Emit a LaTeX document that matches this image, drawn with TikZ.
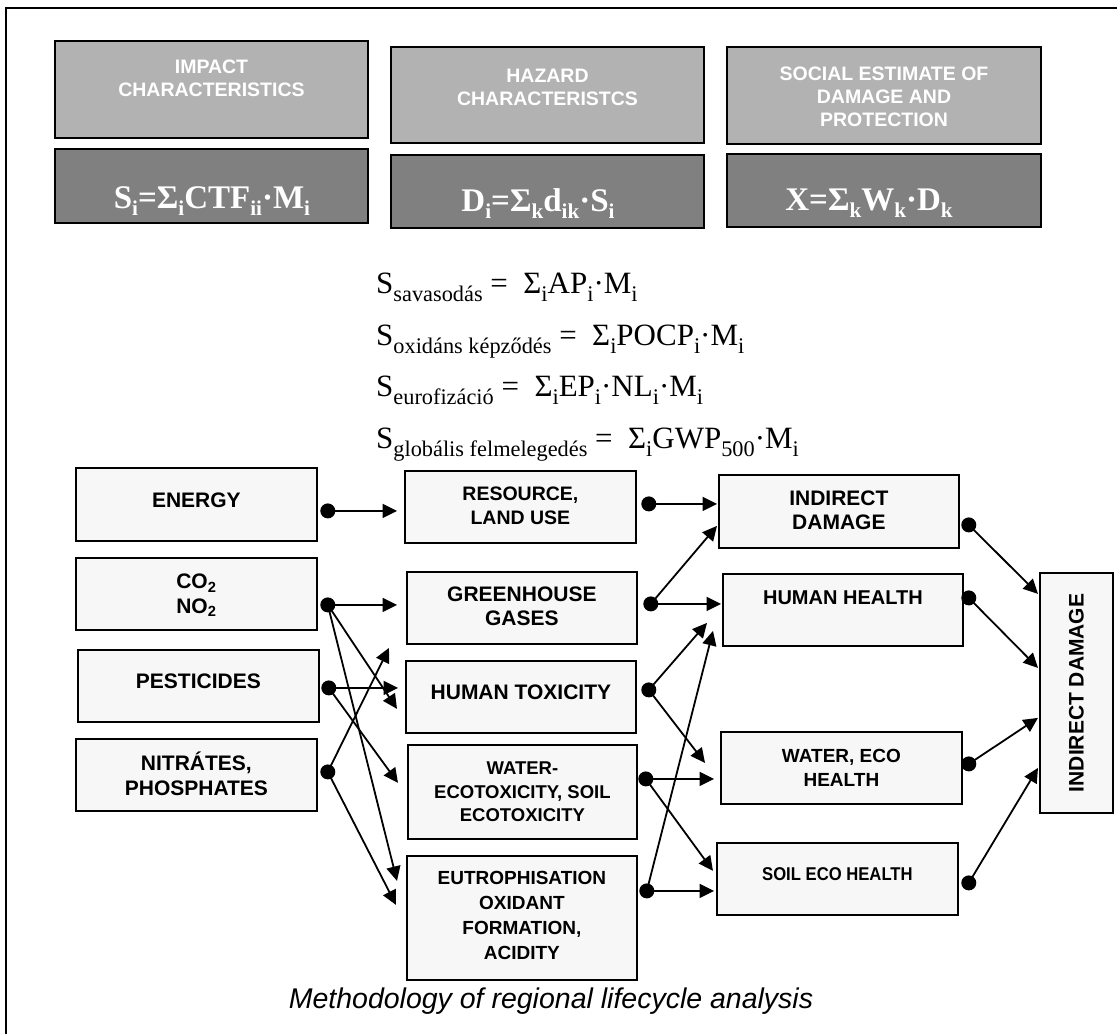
\documentclass[tikz,border=0pt]{standalone}
\usepackage{fontspec}
\setmainfont{Liberation Serif}
\setsansfont{Liberation Sans}
\usetikzlibrary{arrows.meta}
\definecolor{lightg}{HTML}{B2B2B2}
\definecolor{darkg}{HTML}{808080}
\definecolor{boxf}{HTML}{F7F7F7}
\newcommand{\subx}[1]{\raisebox{-0.28em}{\scalebox{0.72}{#1}}}
\newcommand{\subf}[1]{\raisebox{-0.24em}{\scalebox{0.64}{#1}}}
\tikzset{
  topbox/.style={draw=black, line width=2pt, fill=lightg, anchor=north west, inner sep=0pt},
  formbox/.style={draw=black, line width=2pt, fill=darkg, anchor=north west, inner sep=0pt},
  toptext/.style={text=white, font=\sffamily\bfseries\fontsize{19.5}{23}\selectfont, align=center, inner sep=0pt},
  formtext/.style={text=white, anchor=base, inner sep=0pt, font=\rmfamily\bfseries\fontsize{33}{36}\selectfont},
  eqtext/.style={anchor=base west, inner sep=0pt, font=\rmfamily\fontsize{31}{34}\selectfont},
  fbox/.style={draw=black, line width=1.8pt, fill=boxf, anchor=north west, inner sep=0pt},
  btext/.style={align=center, inner sep=0pt, font=\sffamily\bfseries\fontsize{21}{24.5}\selectfont},
  stext/.style={align=center, inner sep=0pt, font=\sffamily\bfseries\fontsize{19}{24}\selectfont},
  conn/.style={line width=1.8pt, -{Triangle[length=14.5pt,width=14pt]}},
}
\begin{document}
\begin{tikzpicture}[x=1pt,y=-1pt]
\path[use as bounding box] (0,0) rectangle (1117,1034);
\draw[line width=2pt] (6,1034) -- (6,8) -- (1117,8);

% top boxes
\node[topbox, minimum width=313pt, minimum height=97pt] (tb1) at (54,40) {};
\node[topbox, minimum width=313pt, minimum height=96pt] (tb2) at (390,46) {};
\node[topbox, minimum width=314pt, minimum height=97pt] (tb3) at (726,46) {};
\node[formbox, minimum width=313pt, minimum height=74pt] (db1) at (54,148) {};
\node[formbox, minimum width=313pt, minimum height=73pt] (db2) at (390,154) {};
\node[formbox, minimum width=314pt, minimum height=73pt] (db3) at (726,153) {};

\node[toptext] (tb1t) at ([yshift=11pt]tb1.center) {IMPACT\\CHARACTERISTICS};
\node[toptext] (tb2t) at ([yshift=7.5pt]tb2.center) {HAZARD\\CHARACTERISTCS};
\node[toptext] (tb3t) at ([yshift=-1pt]tb3.center) {SOCIAL ESTIMATE OF\\DAMAGE AND\\PROTECTION};

\node[formtext] (f1) at (212,208) {S\subf{i}=Σ\subf{i}CTF\subf{ii}·M\subf{i}};
\node[formtext] (f2) at (538,211) {D\subf{i}=Σ\subf{k}d\subf{ik}·S\subf{i}};
\node[formtext] (f3) at (869,210) {X=Σ\subf{k}W\subf{k}·D\subf{k}};

% middle formulas
\node[eqtext] (e1) at (376,293) {S\subx{savasodás} =\ \ Σ\subx{i}AP\subx{i}·M\subx{i}};
\node[eqtext] (e2) at (376,345) {S\subx{oxidáns képződés} =\ \ Σ\subx{i}POCP\subx{i}·M\subx{i}};
\node[eqtext] (e3) at (376,396) {S\subx{eurofizáció} =\ \ Σ\subx{i}EP\subx{i}·NL\subx{i}·M\subx{i}};
\node[eqtext] (e4) at (376,448) {S\subx{globális felmelegedés} =\ \ Σ\subx{i}GWP\subx{500}·M\subx{i}};

% left column
\node[fbox, minimum width=241pt, minimum height=73pt] (energy) at (75,467) {};
\node[fbox, minimum width=241pt, minimum height=72pt] (co2) at (75,557) {};
\node[fbox, minimum width=241pt, minimum height=72pt] (pest) at (77,649) {};
\node[fbox, minimum width=241pt, minimum height=72pt] (nitr) at (75,738) {};
% middle column
\node[fbox, minimum width=231pt, minimum height=72pt] (resource) at (404,470) {};
\node[fbox, minimum width=230pt, minimum height=72pt] (green) at (406,571) {};
\node[fbox, minimum width=230pt, minimum height=72pt] (htox) at (405,660) {};
\node[fbox, minimum width=229pt, minimum height=94pt] (water) at (407,744) {};
\node[fbox, minimum width=230pt, minimum height=124pt] (eutro) at (406,855) {};
% right column
\node[fbox, minimum width=240pt, minimum height=73pt] (indir) at (718,474) {};
\node[fbox, minimum width=240pt, minimum height=72pt] (hh) at (722,573) {};
\node[fbox, minimum width=241pt, minimum height=72pt] (weh) at (720,731) {};
\node[fbox, minimum width=241pt, minimum height=72pt] (soil) at (716,842) {};
\node[fbox, minimum width=73pt, minimum height=240pt] (indv) at (1039,572) {};

% texts
\node[btext] (energyt) at ([yshift=4.5pt]energy.center) {ENERGY};
\node[btext] (co2t) at ([yshift=-1.5pt]co2.center) {CO\textsubscript{2}\\NO\textsubscript{2}};
\node[btext] (pestt) at ([yshift=5pt]pest.center) {PESTICIDES};
\node[btext] (nitrt) at ([yshift=1pt]nitr.center) {NITRÁTES,\\PHOSPHATES};
\node[btext, font=\sffamily\bfseries\fontsize{19.5}{24.5}\selectfont] (resourcet) at ([yshift=1pt]resource.center) {RESOURCE,\\LAND USE};
\node[btext] (greent) at ([yshift=1.5pt]green.center) {GREENHOUSE\\GASES};
\node[btext] (htoxt) at ([yshift=5pt]htox.center) {HUMAN TOXICITY};
\node[stext, font=\sffamily\bfseries\fontsize{18.5}{23.5}\selectfont] (watert) at (water.center) {WATER-\\ECOTOXICITY, SOIL\\ECOTOXICITY};
\node[stext, font=\sffamily\bfseries\fontsize{19}{25}\selectfont] (eutrot) at ([yshift=2.5pt]eutro.center) {EUTROPHISATION\\OXIDANT\\FORMATION,\\ACIDITY};
\node[btext] (indirt) at ([yshift=1pt]indir.center) {INDIRECT\\DAMAGE};
\node[btext, font=\sffamily\bfseries\fontsize{20}{24}\selectfont] (hht) at ([yshift=12pt]hh.center) {HUMAN HEALTH};
\node[stext] (weht) at (weh.center) {WATER, ECO\\HEALTH};
\node[stext, font=\sffamily\bfseries\fontsize{18.5}{20}\selectfont] (soilt) at ([yshift=5pt]soil.center) {\scalebox{0.9}[1]{SOIL ECO HEALTH}};
\node[btext, rotate=90] (indvt) at (indv.center) {INDIRECT DAMAGE};

% dots
\coordinate (dE) at ([xshift=10pt,yshift=-6.5pt]energy.east);
\coordinate (dC) at ([xshift=10pt,yshift=-11pt]co2.east);
\coordinate (dP) at ([xshift=9pt,yshift=-2pt]pest.east);
\coordinate (dN) at ([xshift=10pt,yshift=3pt]nitr.east);
\coordinate (dR) at ([xshift=12pt,yshift=3pt]resource.east);
\coordinate (dG) at ([xshift=13pt,yshift=4pt]green.east);
\coordinate (dH) at ([xshift=12pt,yshift=7pt]htox.east);
\coordinate (dW) at ([xshift=8pt,yshift=13pt]water.east);
\coordinate (dEu) at ([xshift=9pt,yshift=27pt]eutro.east);
\coordinate (dI) at ([xshift=9pt,yshift=-13.5pt]indir.east);
\coordinate (dHH) at ([xshift=5pt,yshift=12pt]hh.east);
\coordinate (dWE) at ([xshift=6pt,yshift=4pt]weh.east);
\coordinate (dS) at ([xshift=10pt,yshift=-4pt]soil.east);

% connectors
\draw[conn] (dE) -- ([xshift=-7pt,yshift=-4pt]resource.west);
\draw[conn] (dC) -- ([xshift=-9pt,yshift=3pt]green.west);
\draw[conn] (dC) -- ([xshift=-8pt,yshift=-12pt]htox.west);
\draw[conn] (dC) -- ([xshift=-9pt,yshift=37pt]eutro.west);
\draw[conn] (dP) -- ([xshift=-7pt,yshift=9pt]htox.west);
\draw[conn] (dP) -- ([xshift=-9pt,yshift=9pt]water.west);
\draw[conn] (dN) -- ([xshift=-17pt,yshift=-40pt]green.west);
\draw[conn] (dN) -- ([xshift=-10pt,yshift=13pt]eutro.west);
\draw[conn] (dR) -- ([xshift=-1pt,yshift=7.5pt]indir.west);
\draw[conn] (dG) -- ([xshift=-1pt,yshift=-14.5pt]indir.west);
\draw[conn] (dG) -- ([xshift=-1pt,yshift=6pt]hh.west);
\draw[conn] (dH) -- ([xshift=-15pt,yshift=-13pt]hh.west);
\draw[conn] (dH) -- ([xshift=-15pt,yshift=5pt]weh.west);
\draw[conn] (dW) -- ([xshift=-6pt,yshift=-11pt]weh.west);
\draw[conn] (dW) -- ([xshift=-3pt,yshift=8pt]soil.west);
\draw[conn] (dEu) -- ([xshift=-2pt,yshift=-12pt]soil.west);
\draw[conn] (dEu) -- ([xshift=-9pt,yshift=-21pt]hh.west);
\draw[conn] (dI) -- ([xshift=-1pt,yshift=99pt]indv.west);
\draw[conn] (dHH) -- ([xshift=-1pt,yshift=25pt]indv.west);
\draw[conn] (dWE) -- ([xshift=-1pt,yshift=-25pt]indv.west);
\draw[conn] (dS) -- ([xshift=-1pt,yshift=-75pt]indv.west);

\foreach \d in {dE,dC,dP,dN,dR,dG,dH,dW,dEu,dI,dHH,dWE,dS}
  \fill (\d) circle[radius=7.5pt];

% caption
\node[anchor=base, inner sep=0pt, font=\sffamily\itshape\fontsize{28.5}{32}\selectfont] (cap) at (551,1008) {Methodology of regional lifecycle analysis};
\end{tikzpicture}
\end{document}
